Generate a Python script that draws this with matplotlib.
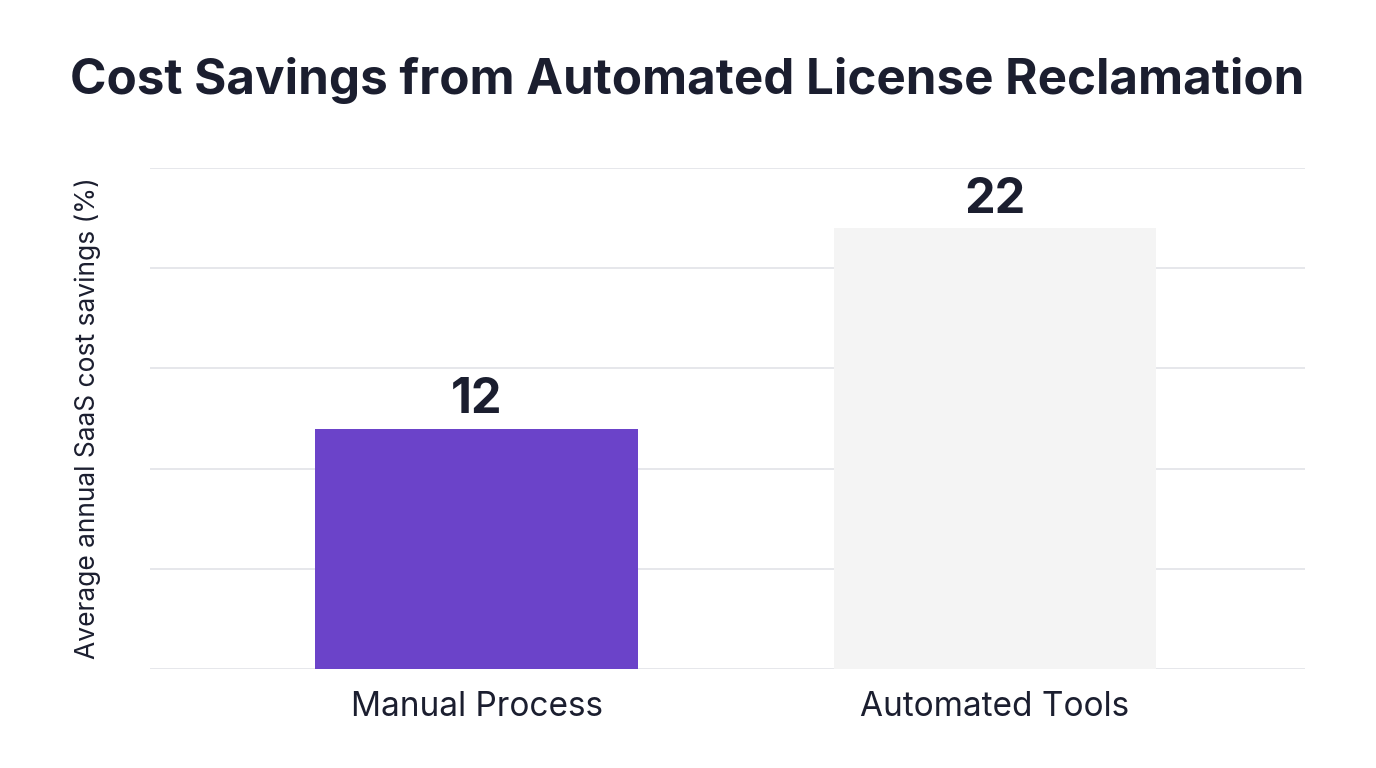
import matplotlib
matplotlib.use('Agg')
import matplotlib.pyplot as plt

categories = ['Manual Process', 'Automated Tools']
savings = [12, 22]
bar_colors = ['#6B43C9', '#F4F4F4']

plt.rcParams['font.family'] = ['Inter', 'DejaVu Sans']
text_color = '#1B1E2F'

fig = plt.figure(figsize=(13.76, 7.68), dpi=100)
ax = fig.add_axes([150 / 1376, 99 / 768, 1155 / 1376, 501 / 768])

xs = range(len(categories))
ax.bar(xs, savings, width=0.623, color=bar_colors, zorder=2)

# value labels above the bars
for x, v in zip(xs, savings):
    ax.annotate(str(v), (x, v), xytext=(0, 11), textcoords='offset points',
                ha='center', va='baseline', fontsize=35, fontweight='bold',
                color=text_color)

ax.set_xlim(-0.63, 1.598)
ax.set_ylim(0, 25)
ax.set_yticks([0, 5, 10, 15, 20, 25])
ax.yaxis.grid(True, color='#E2E3E8', linewidth=1.2, zorder=0)
ax.tick_params(axis='y', length=0, labelleft=False)
ax.tick_params(axis='x', length=0, labelsize=24, labelcolor=text_color, pad=16)
ax.set_xticks(list(xs))
ax.set_xticklabels(categories)
for s in ax.spines.values():
    s.set_visible(False)

ax.set_ylabel('Average annual SaaS cost savings (%)', fontsize=19,
              color=text_color, labelpad=35)

fig.text(70 / 1376, 1 - 80 / 768, 'Cost Savings from Automated License Reclamation',
         fontsize=35.5, fontweight='bold', color=text_color, va='center', ha='left')

plt.savefig('out.png', dpi=100)
